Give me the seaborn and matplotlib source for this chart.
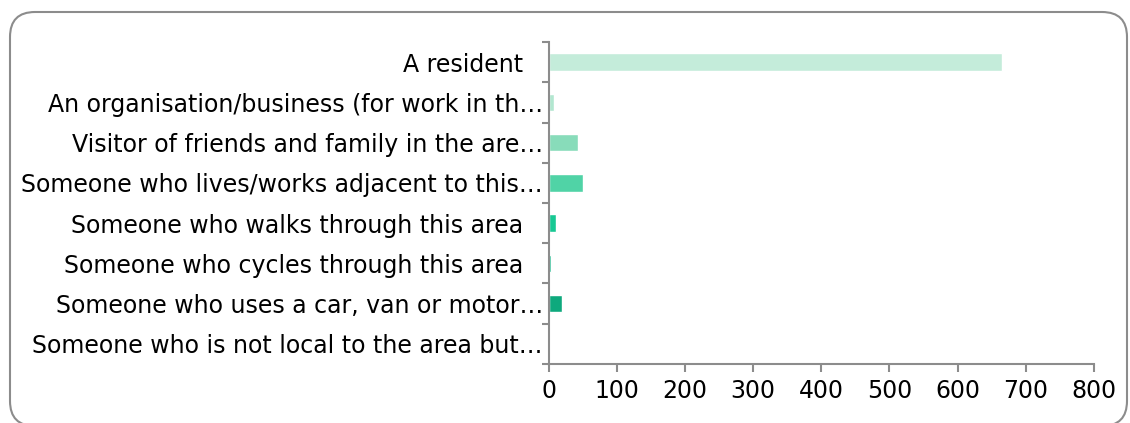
import seaborn as sns
import pandas as pd
import matplotlib.pyplot as plt
import matplotlib.transforms as mtransforms
from matplotlib.patches import FancyBboxPatch
from matplotlib.ticker import FixedLocator

categories = [
    "A resident",
    "An organisation/business (for work in th…",
    "Visitor of friends and family in the are…",
    "Someone who lives/works adjacent to this…",
    "Someone who walks through this area",
    "Someone who cycles through this area",
    "Someone who uses a car, van or motor…",
    "Someone who is not local to the area but…",
]
counts = [666, 8, 43, 51, 11, 4, 20, 1]
colors = ["#c4ecda", "#b2e7d0", "#88dcba", "#50d3a6",
          "#17c893", "#12b98a", "#0ea97d", "#5a9486"]
x_ticks = [0, 100, 200, 300, 400, 500, 600, 700, 800]

df = pd.DataFrame({"category": categories, "count": counts})

sns.set_style("white")
plt.rcParams["font.family"] = ["DejaVu Sans"]
axis_grey = "#8c8c8c"

fig = plt.figure(figsize=(11.3, 4.23), dpi=100)
ax = fig.add_axes([0.4854, 0.1395, 0.968 - 0.4854, 0.9007 - 0.1395])

sns.barplot(data=df, y="category", x="count", hue="category",
            palette=colors, saturation=1, orient="h", width=0.44,
            legend=False, ax=ax)

ax.set_xlim(0, 800)
ax.set_ylim(7.5, -0.5)
ax.set_xticks(x_ticks)
ax.set_xlabel("")
ax.set_ylabel("")

for side in ["top", "right"]:
    ax.spines[side].set_visible(False)
for side in ["left", "bottom"]:
    ax.spines[side].set_color(axis_grey)
    ax.spines[side].set_linewidth(1.5)

ax.yaxis.set_minor_locator(FixedLocator([i - 0.5 for i in range(9)]))
ax.tick_params(axis="y", which="major", length=0, pad=4, labelsize=17,
               labelcolor="black")
ax.tick_params(axis="y", which="minor", length=5, width=1.5, color=axis_grey, left=True)
ax.tick_params(axis="x", which="major", length=6, width=1.5, color=axis_grey,
               bottom=True, pad=5, labelsize=17, labelcolor="black")

# labels that were not cut off sit a little further from the axis
shift = mtransforms.ScaledTranslation(-0.2, 0, fig.dpi_scale_trans)
for lbl in ax.get_yticklabels():
    if not lbl.get_text().endswith("…"):
        lbl.set_transform(lbl.get_transform() + shift)

border = FancyBboxPatch((10, -3), 1117, 414,
                        boxstyle="round,pad=0,rounding_size=25",
                        transform=None, fill=False,
                        edgecolor=axis_grey, linewidth=1.5)
fig.patches.append(border)

fig.savefig("out.png", dpi=100)
